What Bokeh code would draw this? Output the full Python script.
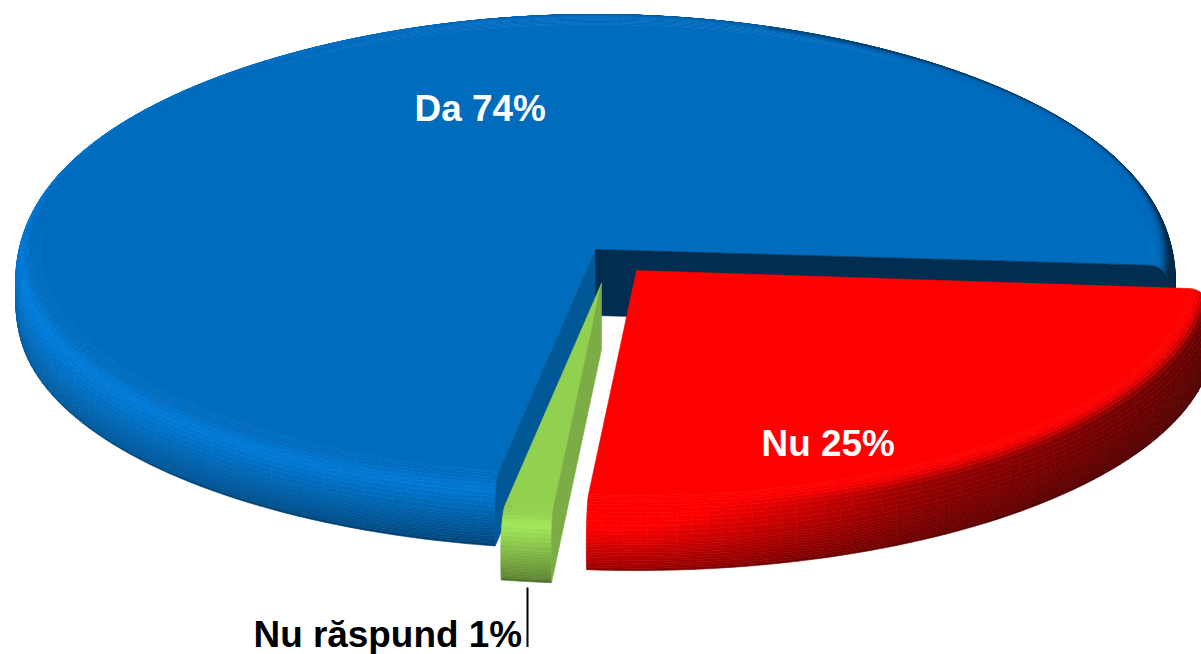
import math
from bokeh.plotting import figure
from bokeh.models import Range1d, ColumnDataSource
from bokeh.embed import file_html
from bokeh.resources import INLINE
from bokeh.core.properties import value

# ---- data (labels are the rounded values)
categories = ["Nu", "Nu răspund", "Da"]
shares = [25.1, 1.4, 73.5]
label_colors = ["white", "black", "white"]

# ---- look
base_colors = [(255, 0, 0), (146, 208, 80), (0, 108, 190)]
face_colors = [None, (124, 172, 70), (0, 88, 150)]
end_face_colors = [None, None, (0, 45, 80)]
apexes = [(636, 270), (601, 283), (595, 249)]
label_pos = [(761, 443), (253, 633.5), (414, 107.5)]
START = 4.6
RX, RY = 580.0, 235.0
S0 = 0.957
D_BEVEL, D_TOTAL = 34.0, 66.0
W, H = 1201, 654

p = figure(width=W, height=H, output_backend="svg", toolbar_location=None,
           x_range=Range1d(0, W), y_range=Range1d(H, 0),
           min_border=0, outline_line_color=None, background_fill_color="white",
           border_fill_color="white")
p.axis.visible = False
p.grid.visible = False


def depth_factor(t):
    s = math.sin(t)
    return 1.0 if s >= 0 else 1.0 + s


def pt(apex, t, s, d):
    return (apex[0] + RX * s * math.cos(t), apex[1] + RY * s * math.sin(t) + d * depth_factor(t))


def profile(n_bevel=12, n_wall=12):
    out = []
    for i in range(n_bevel + 1):
        a = i / n_bevel * math.pi / 2
        d = D_BEVEL * (1 - math.cos(a))
        out.append((S0 + (1 - S0) * math.sin(a), d, d / D_TOTAL))
    for i in range(1, n_wall + 1):
        f = i / n_wall
        d = D_BEVEL + (D_TOTAL - D_BEVEL) * f
        out.append((1 - 0.004 * f ** 4, d, d / D_TOTAL))
    return out


def interp(x, xs, ys):
    for i in range(len(xs) - 1):
        if x <= xs[i + 1]:
            f = (x - xs[i]) / (xs[i + 1] - xs[i])
            return ys[i] + (ys[i + 1] - ys[i]) * f
    return ys[-1]


PEAK = 0.18


def shade(base, t, q):
    a = -math.cos(t)
    hf = interp(a, [-1, -0.5, 0, 1], [0.40, 0.60, 1.10, 1.15])
    sf = interp(a, [-1, -0.5, 0, 1], [0.30, 0.42, 0.62, 0.85])
    if math.sin(t) < 0:
        k = -math.sin(t)
        hf = hf * (1 - k * 0.7) + 1.0 * k * 0.7 if a > -0.3 else hf
    if q <= PEAK:
        u = q / PEAK
        u = u * u * (3 - 2 * u)
        fac = 1 + (hf - 1) * u
    elif q <= 0.95:
        u = (q - PEAK) / (0.95 - PEAK)
        fac = hf + (sf - hf) * u
    else:
        fac = sf * 0.85
    return tuple(min(255, int(c * fac)) for c in base)


def hexc(c):
    return "#%02x%02x%02x" % tuple(c)


xs, ys, cols = [], [], []


def add(poly, c):
    xs.append([q[0] for q in poly])
    ys.append([q[1] for q in poly])
    cols.append(hexc(c))


total = sum(shares)
sweeps = [v / total * 360.0 for v in shares]
starts = [START + sum(sweeps[:i]) for i in range(len(sweeps))]
prof = profile()
draw_order = [2, 0, 1]

for i in draw_order:
    apex, base = apexes[i], base_colors[i]
    t0, t1 = math.radians(starts[i]), math.radians(starts[i] + sweeps[i])
    if i == 2:
        t1 -= math.radians(0.6)
    n = max(3, int(round(sweeps[i] / 1.5)))
    ts = [t0 + (t1 - t0) * k / n for k in range(n + 1)]
    for j in range(len(prof) - 1, 0, -1):
        outer, inner = prof[j], prof[j - 1]
        for k in range(n):
            a, b = ts[k], ts[k + 1]
            mid = (a + b) / 2
            add([pt(apex, a, outer[0], outer[1]), pt(apex, b, outer[0], outer[1]),
                 pt(apex, b, inner[0], inner[1]), pt(apex, a, inner[0], inner[1])],
                shade(base, mid, (outer[2] + inner[2]) / 2))
    add([apex] + [pt(apex, t, S0, 0) for t in ts], base)
    for angle, fc in ((t0, face_colors[i]), (t1, end_face_colors[i])):
        if fc is None:
            continue
        poly = [apex] + [pt(apex, angle, s, d) for s, d, _ in prof] + [(apex[0], apex[1] + D_TOTAL)]
        add(poly, fc)

src = ColumnDataSource(dict(xs=xs, ys=ys, color=cols))
p.patches("xs", "ys", source=src, fill_color="color", line_color="color", line_width=0.6)

# leader line of the small slice
lx, ly = label_pos[1]
p.segment(x0=[lx + 274], y0=[ly - 46.5], x1=[lx + 274], y1=[ly + 13], line_color="black", line_width=2)

texts = [f"{c} {round(v)}%" for c, v in zip(categories, shares)]
p.text(x=[q[0] for q in label_pos], y=[q[1] for q in label_pos], text=texts,
       text_color=label_colors, text_font=value("Liberation Sans"), text_font_style="bold",
       text_font_size="36.9px", text_align="left", text_baseline="alphabetic")

open("out.html", "w").write(file_html(p, INLINE))
